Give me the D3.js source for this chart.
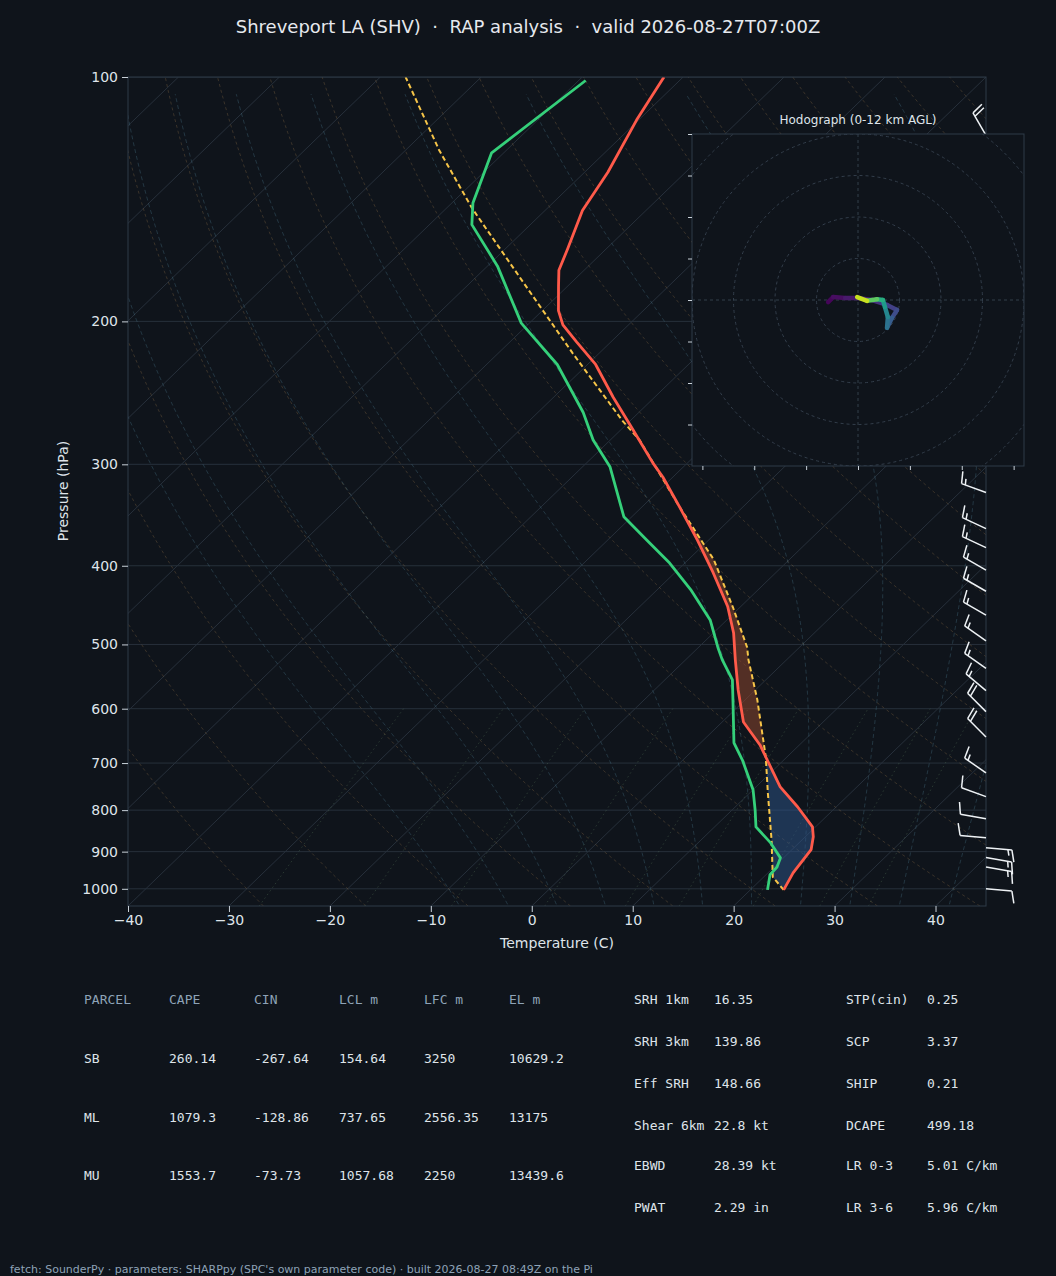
<!DOCTYPE html>
<html>
<head>
<meta charset="utf-8">
<script src="https://cdn.jsdelivr.net/npm/d3@7"></script>
<style>
  body { margin: 0; background: #0f141b; }
  svg { display: block; }
</style>
</head>
<body>
<div id="chart"></div>
<script>
// sounding (hPa, C)
const tempP = [1003, 956, 895, 863, 839, 793, 749, 665, 623, 569, 522, 484, 449, 408, 372, 339, 311, 299, 272, 248, 226, 212, 202, 194, 181, 173, 163, 146, 131, 113, 100];
const tempT = [23.3, 22.5, 21.9, 20.8, 19.7, 16.2, 12.4, 6.1, 2.1, -1.7, -5.1, -8.0, -11.3, -16.2, -21.1, -26.2, -31.0, -33.4, -38.8, -44.1, -49.2, -53.4, -56.5, -58.4, -60.9, -62.5, -63.8, -66.3, -67.7, -70.2, -71.9];
const dewP = [1003, 961, 940, 916, 878, 839, 800, 755, 694, 661, 590, 553, 522, 504, 467, 428, 397, 372, 348, 302, 280, 259, 226, 201, 171, 152, 143, 124, 101];
const dewT = [21.7, 20.4, 20.3, 19.7, 17.2, 14.1, 12.3, 10.0, 5.9, 3.3, -0.9, -3.3, -6.4, -8.1, -11.6, -16.7, -21.5, -26.1, -30.8, -37.3, -41.7, -45.5, -53.0, -60.8, -69.0, -75.8, -77.9, -81.2, -79.3];
const parcelP = [1003, 967, 871, 762, 688, 585, 522, 504, 450, 393, 339, 280, 265, 219, 179, 145, 123, 100];
const parcelT = [23.3, 20.9, 17.0, 11.8, 7.9, 1.2, -3.8, -5.2, -10.7, -17.5, -26.2, -37.1, -40.8, -52.6, -64.8, -77.5, -86.7, -97.5];

// wind barbs (hPa, direction deg, speed kt)
const barbP = [118, 140, 165, 190, 220, 250, 280, 325, 360, 380, 405, 430, 460, 495, 535, 570, 605, 650, 720, 770, 820, 865, 890, 915, 940, 1000];
const barbDir = [330, 300, 300, 300, 300, 300, 295, 290, 295, 295, 300, 300, 300, 305, 305, 310, 315, 315, 305, 290, 280, 275, 95, 100, 100, 95];
const barbSpd = [20, 15, 15, 15, 15, 15, 15, 15, 15, 15, 15, 15, 15, 15, 15, 15, 20, 20, 15, 10, 10, 10, 15, 15, 15, 10];

// hodograph (kt) with height of each point (km AGL)
const hodoU = [-7.2, -6.0, -3.1, -0.2, 3.4, 7.0, 9.4, 8.2, 7.0, 7.2, 6.5, 6.0, 4.6, 2.2, -0.2];
const hodoV = [-0.5, 0.7, 0.5, 0.5, 0.0, -1.2, -2.4, -4.3, -6.7, -4.1, -1.7, 0.0, 0.2, -0.2, 0.7];
const hodoZ = [0, 0.3, 0.6, 1, 1.5, 2, 2.5, 3, 4, 5, 6, 7, 8, 10, 12];

const pTicks = [100, 200, 300, 400, 500, 600, 700, 800, 900, 1000];
const tTicks = [-40, -30, -20, -10, 0, 10, 20, 30, 40];

const parcelHead = ['PARCEL', 'CAPE', 'CIN', 'LCL m', 'LFC m', 'EL m'];
const parcelRows = [
  ['SB', '260.14', '-267.64', '154.64', '3250', '10629.2'],
  ['ML', '1079.3', '-128.86', '737.65', '2556.35', '13175'],
  ['MU', '1553.7', '-73.73', '1057.68', '2250', '13439.6']
];
const statNames1 = ['SRH 1km', 'SRH 3km', 'Eff SRH', 'Shear 6km', 'EBWD', 'PWAT'];
const statVals1 = ['16.35', '139.86', '148.66', '22.8 kt', '28.39 kt', '2.29 in'];
const statNames2 = ['STP(cin)', 'SCP', 'SHIP', 'DCAPE', 'LR 0-3', 'LR 3-6'];
const statVals2 = ['0.25', '3.37', '0.21', '499.18', '5.01 C/km', '5.96 C/km'];

const W = 1056, H = 1276;
const L = 128, R = 986, T0 = 77, B = 906;
const skew = (R - L) / (B - T0);

const svg = d3.select('#chart').append('svg').attr('width', W).attr('height', H)
  .style('font-family', 'DejaVu Sans, sans-serif');
svg.append('rect').attr('width', W).attr('height', H).attr('fill', '#0f141b');

const x = d3.scaleLinear().domain([-40, 45]).range([L, R]);
const y = d3.scaleLog().domain([1050, 100]).range([B, T0]);
const X = (t, p) => x(t) + (B - y(p)) * skew;

svg.append('defs').append('clipPath').attr('id', 'plotclip')
  .append('rect').attr('x', L).attr('y', T0).attr('width', R - L).attr('height', B - T0);

const g = svg.append('g').attr('clip-path', 'url(#plotclip)');
const line = d3.line().x(d => X(d[0], d[1])).y(d => y(d[1]));

// background lines
const pGrid = d3.range(0, 61).map(i => 1050 * Math.pow(100 / 1050, i / 60));
pTicks.forEach(p => g.append('line').attr('x1', L).attr('x2', R).attr('y1', y(p)).attr('y2', y(p))
  .attr('stroke', '#27303b').attr('stroke-width', 1));
d3.range(-140, 50, 10).forEach(t => g.append('path').attr('d', line([[t, 1050], [t, 100]]))
  .attr('stroke', '#27303b').attr('stroke-width', 1).attr('fill', 'none'));

d3.range(-30, 200, 10).forEach(t0 => {
  const th = t0 + 273.15;
  g.append('path').attr('d', line(pGrid.map(p => [th * Math.pow(p / 1000, 0.2857) - 273.15, p])))
    .attr('stroke', 'rgba(170,130,80,0.35)').attr('stroke-width', 0.8).attr('stroke-dasharray', '3,3').attr('fill', 'none');
});

function esat(tc) { return 6.112 * Math.exp(17.67 * tc / (tc + 243.5)); }
function moistLine(t0) {
  const step = (tk, p, dp) => {
    const tc = tk - 273.15, es = esat(tc), rs = 0.622 * es / (p - es);
    const num = 287 * tk + 2.5e6 * rs;
    const den = 1005 + 2.5e6 * 2.5e6 * rs * 0.622 / (287 * tk * tk);
    return tk + dp * num / den / p;
  };
  let tk = t0 + 273.15;
  const down = [], pts = [];
  for (let q = 1000; q < 1050; q += 5) { down.push([tk - 273.15, q]); tk = step(tk, q, 5); }
  tk = t0 + 273.15;
  for (let q = 1000; q > 100; q -= 5) { pts.push([tk - 273.15, q]); tk = step(tk, q, -5); }
  return down.reverse().concat(pts);
}
d3.range(-10, 46, 5).forEach(t0 => g.append('path').attr('d', line(moistLine(t0)))
  .attr('stroke', 'rgba(80,130,150,0.4)').attr('stroke-width', 0.8).attr('stroke-dasharray', '4,3').attr('fill', 'none'));

[0.0004, 0.001, 0.002, 0.004, 0.007, 0.01, 0.016, 0.024, 0.032].forEach(w => {
  const pts = d3.range(1050, 595, -10).map(p => {
    const e = p * w / (0.622 + w), ln = Math.log(e / 6.112);
    return [243.5 * ln / (17.67 - ln), p];
  });
  g.append('path').attr('d', line(pts)).attr('stroke', 'rgba(110,150,110,0.35)')
    .attr('stroke-width', 0.8).attr('stroke-dasharray', '1.5,3').attr('fill', 'none');
});

// CAPE / CIN shading
function interp(ps, ts, p) {
  const lp = Math.log(p);
  for (let i = 0; i < ps.length - 1; i++) {
    const a = Math.log(ps[i]), b = Math.log(ps[i + 1]);
    if (lp <= a && lp >= b) return ts[i] + (ts[i + 1] - ts[i]) * (lp - a) / (b - a);
  }
  return NaN;
}
const fillP = d3.range(0, 401).map(i => 1003 * Math.pow(100 / 1003, i / 400));
const fillD = fillP.map(p => ({ p, t: interp(tempP, tempT, p), tp: interp(parcelP, parcelT, p) }));
const area = d3.area().y(d => y(d.p)).x0(d => X(d.t, d.p)).x1(d => X(d.tp, d.p));
g.append('path').datum(fillD).attr('d', area.defined(d => d.tp >= d.t && d.p > 290))
  .attr('fill', 'rgba(140,70,45,0.55)');
g.append('path').datum(fillD).attr('d', area.defined(d => d.tp <= d.t && d.p > 600))
  .attr('fill', 'rgba(45,85,140,0.5)');

// profiles
g.append('path').attr('d', line(parcelP.map((p, i) => [parcelT[i], p])))
  .attr('stroke', '#f7c548').attr('stroke-width', 2).attr('stroke-dasharray', '5,3').attr('fill', 'none');
g.append('path').attr('d', line(dewP.map((p, i) => [dewT[i], p])).replace(/L/g, 'L'))
  .attr('stroke', '#35d07a').attr('stroke-width', 2.8).attr('fill', 'none').attr('stroke-linejoin', 'round');
g.append('path').attr('d', line(tempP.map((p, i) => [tempT[i], p])))
  .attr('stroke', '#ff5a4a').attr('stroke-width', 2.8).attr('fill', 'none').attr('stroke-linejoin', 'round');

// frame and axes
svg.append('rect').attr('x', L).attr('y', T0).attr('width', R - L).attr('height', B - T0)
  .attr('fill', 'none').attr('stroke', '#2f3b49');
const ya = svg.append('g').attr('transform', `translate(${L},0)`)
  .call(d3.axisLeft(y).tickValues(pTicks).tickFormat(d3.format('d')).tickSize(6).tickPadding(4));
const xa = svg.append('g').attr('transform', `translate(0,${B})`)
  .call(d3.axisBottom(x).tickValues(tTicks).tickFormat(d => d < 0 ? '\u2212' + Math.abs(d) : d).tickSize(6).tickPadding(3));
[ya, xa].forEach(a => {
  a.select('.domain').remove();
  a.selectAll('line').attr('stroke', '#c9d1d9');
  a.selectAll('text').attr('fill', '#dfe4ea').style('font-size', '14px').style('font-family', 'DejaVu Sans');
});
svg.append('text').attr('x', 557).attr('y', 948).attr('text-anchor', 'middle').attr('fill', '#dfe4ea')
  .style('font-size', '14px').text('Temperature (C)');
svg.append('text').attr('transform', 'translate(68,491) rotate(-90)').attr('text-anchor', 'middle')
  .attr('fill', '#dfe4ea').style('font-size', '14px').text('Pressure (hPa)');
svg.append('text').attr('x', 528).attr('y', 33).attr('text-anchor', 'middle').attr('fill', '#e6e9ee')
  .style('font-size', '18px').style('white-space', 'pre')
  .text('Shreveport LA (SHV)  \u00b7  RAP analysis  \u00b7  valid 2026-08-27T07:00Z');

// wind barbs
const bg = svg.append('g').attr('stroke', '#eef2f5').attr('stroke-width', 1.5).attr('fill', 'none');
barbP.forEach((p, i) => {
  const bx = R, by = y(p);
  const d = barbDir[i] * Math.PI / 180;
  const ux = Math.sin(d), uy = -Math.cos(d);
  const nx = -uy, ny = ux;
  const len = 26;
  const tx = bx + ux * len, ty = by + uy * len;
  bg.append('line').attr('x1', bx).attr('y1', by).attr('x2', tx).attr('y2', ty);
  let s = barbSpd[i], pos = 0;
  const barb = (frac) => {
    const sx = tx - ux * pos, sy = ty - uy * pos;
    const bl = 12 * frac;
    bg.append('line').attr('x1', sx).attr('y1', sy)
      .attr('x2', sx + nx * bl + ux * bl * 0.25).attr('y2', sy + ny * bl + uy * bl * 0.25);
    pos += 4;
  };
  while (s >= 10) { barb(1); s -= 10; }
  if (s >= 5) { if (pos === 0) pos = 4; barb(0.5); }
});

// hodograph inset
const hx0 = 692, hx1 = 1024, hy0 = 134, hy1 = 466;
const hu = d3.scaleLinear().domain([-40, 40]).range([hx0, hx1]);
const hv = d3.scaleLinear().domain([-40, 40]).range([hy1, hy0]);
const hg = svg.append('g');
hg.append('rect').attr('x', hx0).attr('y', hy0).attr('width', hx1 - hx0).attr('height', hy1 - hy0)
  .attr('fill', '#0f141b');
svg.append('defs').append('clipPath').attr('id', 'hodoclip')
  .append('rect').attr('x', hx0).attr('y', hy0).attr('width', hx1 - hx0).attr('height', hy1 - hy0);
const hc = hg.append('g').attr('clip-path', 'url(#hodoclip)');
d3.range(10, 70, 10).forEach(r => hc.append('circle').attr('cx', hu(0)).attr('cy', hv(0))
  .attr('r', hu(r) - hu(0)).attr('fill', 'none').attr('stroke', '#333e4b').attr('stroke-dasharray', '3,3'));
hc.append('line').attr('x1', hx0).attr('x2', hx1).attr('y1', hv(0)).attr('y2', hv(0))
  .attr('stroke', '#333e4b').attr('stroke-dasharray', '3,3');
hc.append('line').attr('y1', hy0).attr('y2', hy1).attr('x1', hu(0)).attr('x2', hu(0))
  .attr('stroke', '#333e4b').attr('stroke-dasharray', '3,3');
const zc = d3.scaleLinear().domain([0, 12]).range([0, 1]);
for (let i = 0; i < hodoU.length - 1; i++) {
  hc.append('line').attr('x1', hu(hodoU[i])).attr('y1', hv(hodoV[i]))
    .attr('x2', hu(hodoU[i + 1])).attr('y2', hv(hodoV[i + 1]))
    .attr('stroke', d3.interpolateViridis(zc((hodoZ[i] + hodoZ[i + 1]) / 2)))
    .attr('stroke-width', 4.5).attr('stroke-linecap', 'round');
}
hg.append('rect').attr('x', hx0).attr('y', hy0).attr('width', hx1 - hx0).attr('height', hy1 - hy0)
  .attr('fill', 'none').attr('stroke', '#2f3b49');
const hxa = hg.append('g').attr('transform', `translate(0,${hy1})`)
  .call(d3.axisBottom(hu).tickValues([-37.5, -25, -12.5, 0, 12.5, 25, 37.5]).tickFormat('').tickSize(4));
const hya = hg.append('g').attr('transform', `translate(${hx0},0)`)
  .call(d3.axisLeft(hv).tickValues([40, 30, 20, 10, 0, -10, -20, -30]).tickFormat('').tickSize(4));
[hxa, hya].forEach(a => { a.select('.domain').remove(); a.selectAll('line').attr('stroke', '#c9d1d9'); });
hg.append('text').attr('x', 858).attr('y', 124).attr('text-anchor', 'middle').attr('fill', '#dfe4ea')
  .style('font-size', '12px').text('Hodograph (0-12 km AGL)');

// tables
const mono = 'DejaVu Sans Mono, monospace';
const colX = [84, 169, 254, 339, 424, 509];
const rowY = [1004, 1063, 1122, 1180];
parcelHead.forEach((h, j) => svg.append('text').attr('x', colX[j]).attr('y', rowY[0]).attr('fill', '#8ea3b7')
  .style('font-family', mono).style('font-size', '13px').text(h));
parcelRows.forEach((r, i) => r.forEach((v, j) => svg.append('text').attr('x', colX[j]).attr('y', rowY[i + 1])
  .attr('fill', '#dfe4ea').style('font-family', mono).style('font-size', '13px').text(v)));
const sY = [1004, 1046, 1088, 1130, 1170, 1212];
[[statNames1, statVals1, 634, 714], [statNames2, statVals2, 846, 927]].forEach(([ns, vs, xa0, xa1]) => {
  ns.forEach((n, i) => {
    svg.append('text').attr('x', xa0).attr('y', sY[i]).attr('fill', '#dfe4ea').style('font-family', mono)
      .style('font-size', '13px').text(n);
    svg.append('text').attr('x', xa1).attr('y', sY[i]).attr('fill', '#dfe4ea').style('font-family', mono)
      .style('font-size', '13px').text(vs[i]);
  });
});
svg.append('text').attr('x', 10).attr('y', 1273).attr('fill', '#8ea3b7').style('font-size', '11px')
  .text("fetch: SounderPy \u00b7 parameters: SHARPpy (SPC's own parameter code) \u00b7 built 2026-08-27 08:49Z on the Pi");
</script>
</body>
</html>
